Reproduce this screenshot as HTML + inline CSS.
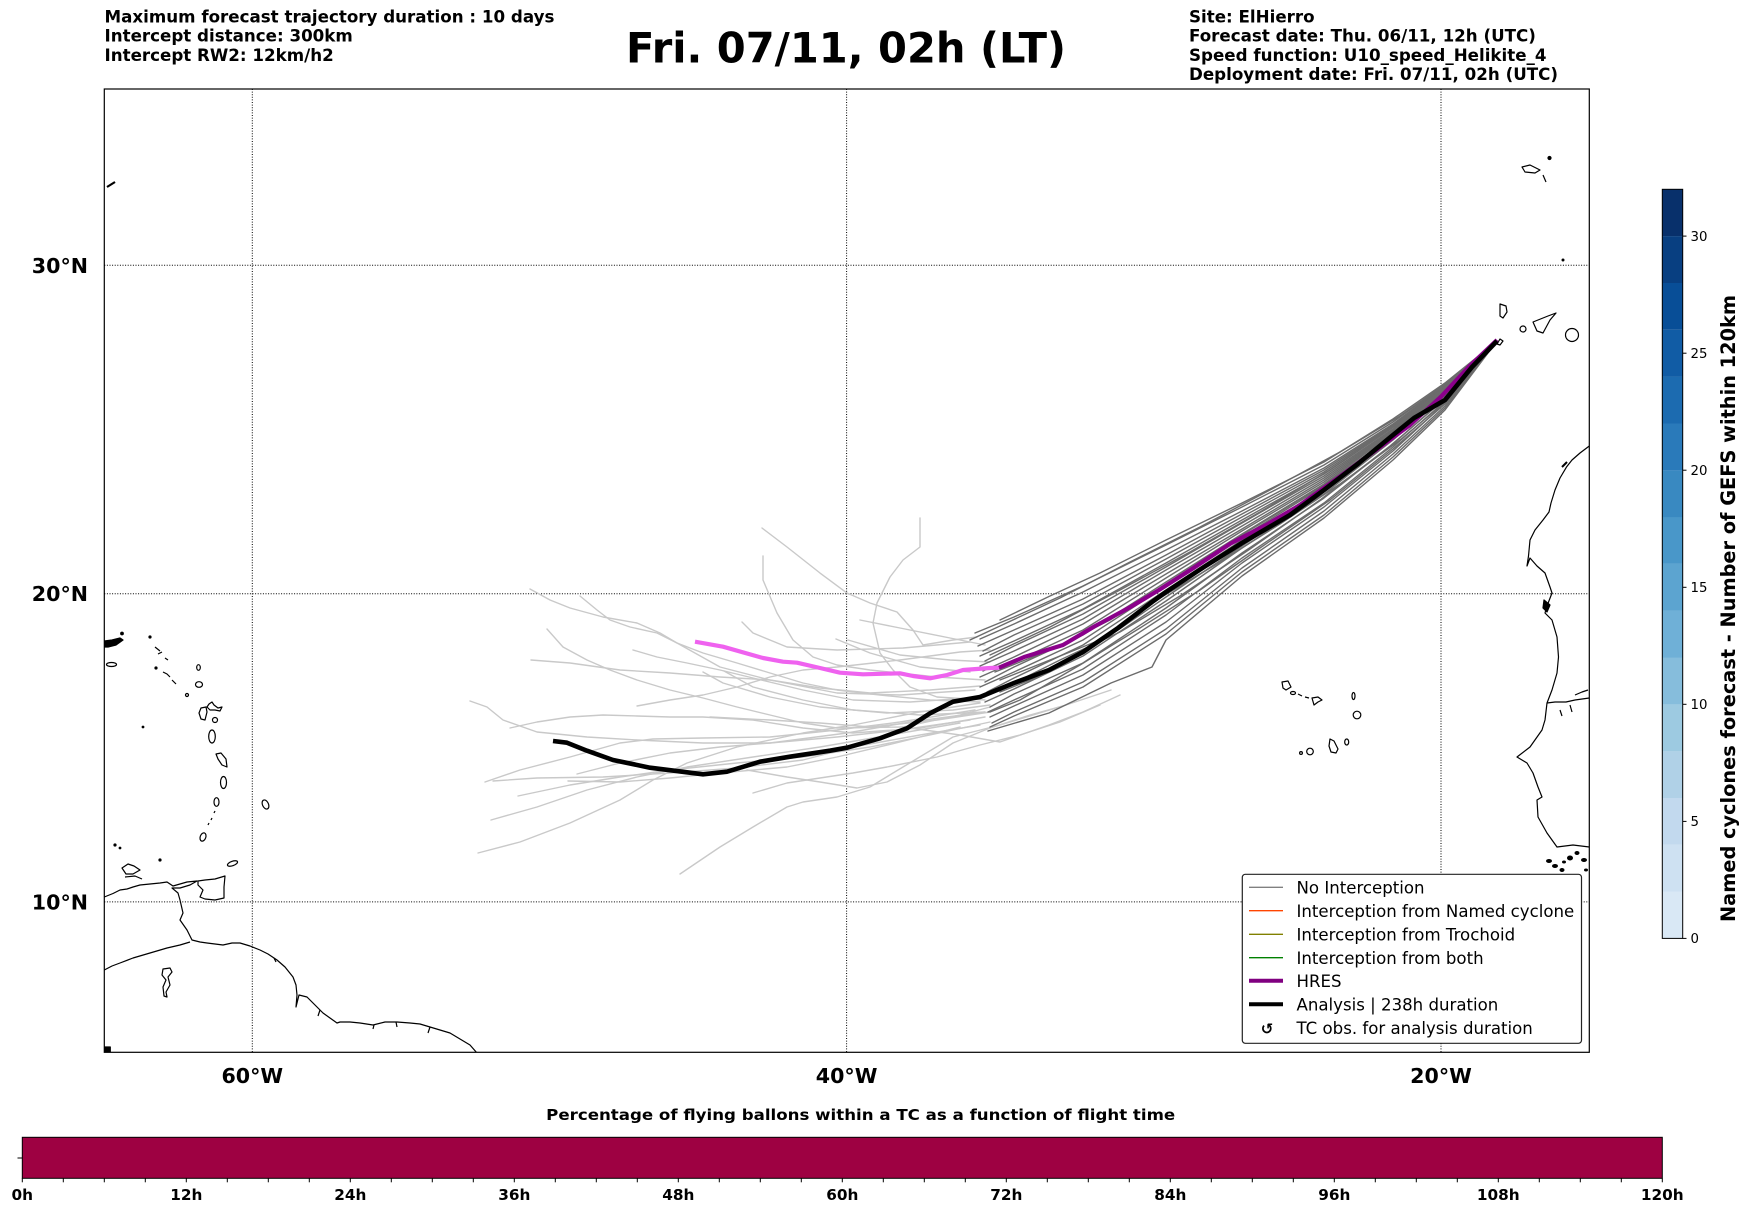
<!DOCTYPE html>
<html><head><meta charset="utf-8"><style>
html,body{margin:0;padding:0;background:#fff;}
svg{display:block;}
text{font-family:"DejaVu Sans","Liberation Sans",sans-serif;}
</style></head><body>
<svg width="1748" height="1213" viewBox="0 0 1748 1213" xmlns="http://www.w3.org/2000/svg">
<rect x="0" y="0" width="1748" height="1213" fill="#fff"/>

<!-- Header texts -->
<g font-weight="bold" font-size="16.7" fill="#000">
<text x="104.5" y="22.5">Maximum forecast trajectory duration : 10 days</text>
<text x="104.5" y="41.7">Intercept distance: 300km</text>
<text x="104.5" y="60.9">Intercept RW2: 12km/h2</text>
<text x="1189" y="22.5">Site: ElHierro</text>
<text x="1189" y="41.7">Forecast date: Thu. 06/11, 12h (UTC)</text>
<text x="1189" y="60.9">Speed function: U10_speed_Helikite_4</text>
<text x="1189" y="80.1">Deployment date: Fri. 07/11, 02h (UTC)</text>
</g>
<text x="846" y="62.3" font-size="41.6" font-weight="bold" text-anchor="middle">Fri. 07/11, 02h (LT)</text>

<!-- Map area -->
<defs><clipPath id="ax"><rect x="104.3" y="89" width="1485" height="963.3"/></clipPath></defs>
<g clip-path="url(#ax)">
<!-- gridlines -->
<g stroke="#000" stroke-width="1" stroke-dasharray="1,1.6" fill="none">
<line x1="252.3" y1="89" x2="252.3" y2="1052.3"/>
<line x1="846.6" y1="89" x2="846.6" y2="1052.3"/>
<line x1="1441" y1="89" x2="1441" y2="1052.3"/>
<line x1="104.3" y1="265.3" x2="1589.3" y2="265.3"/>
<line x1="104.3" y1="593.7" x2="1589.3" y2="593.7"/>
<line x1="104.3" y1="901.9" x2="1589.3" y2="901.9"/>
</g>

<!-- coastlines -->
<g stroke="#000" stroke-width="1.2" fill="none" stroke-linejoin="round">
<path d="M107,187 L111,184.5 L115,182" stroke-width="2.2"/>
<path d="M104.3,641 L112,640 L120,638 L123,640 L116,645 L108,647 L104.3,647 Z" fill="#000"/>
<circle cx="122" cy="633.5" r="1.3" fill="#000"/>
<ellipse cx="111.5" cy="664.5" rx="5" ry="2"/>
<path d="M155,647 L160,651 M158,654 L162,652 M165,658 L168,660"/>
<circle cx="150" cy="637" r="1" fill="#000"/>
<circle cx="156" cy="668" r="1" fill="#000"/>
<path d="M163,672 L167,674 L170,677 M172,680 L176,684"/>
<ellipse cx="198.5" cy="667.5" rx="1.8" ry="2.8"/>
<ellipse cx="199" cy="684.5" rx="3.5" ry="2.8"/>
<circle cx="187" cy="695" r="1.5"/>
<path d="M201,708 L206,707 L207,712 L205,720 L201,719 L199,713 Z"/>
<path d="M207,707 L209,704 L212,702 L214,705 L218,708 L222,707 L220,711 L215,710 L210,710 Z"/>
<circle cx="215" cy="720" r="2.5"/>
<ellipse cx="212" cy="736.5" rx="3.3" ry="6.5"/>
<path d="M216,754 L221,753 L226,759 L227,767 L222,765 L218,759 Z"/>
<ellipse cx="223.5" cy="782.5" rx="3" ry="6"/>
<ellipse cx="216.5" cy="802" rx="2.5" ry="4.3"/>
<path d="M215,811 L214,813 M212,818 L211,820 M209,823 L208,825"/>
<ellipse cx="203" cy="837" rx="2.8" ry="4.3" transform="rotate(20 203 837)"/>
<ellipse cx="265.5" cy="804.5" rx="3" ry="4.8" transform="rotate(-25 265.5 804.5)"/>
<circle cx="143" cy="727" r="0.8" fill="#000"/>
<ellipse cx="232.5" cy="863.5" rx="5.3" ry="2.2" transform="rotate(-20 232.5 863.5)"/>
<circle cx="115" cy="845" r="1" fill="#000"/><circle cx="120" cy="848" r="0.8" fill="#000"/>
<circle cx="160" cy="860" r="1" fill="#000"/>
<path d="M122,868 L128,864 L134,866 L140,870 L133,874 L126,874 Z"/>
<path d="M125,877 L135,876 L142,879"/>
<path d="M198,881 L205,880 L215,879 L225,876 L224,887 L224,898 L215,900 L205,899 L200,897 L203,890 L198,885 Z"/>
<path d="M104.3,897 L113,893.5 L120,890 L127,889 L133,887 L140,885 L150,884 L160,883 L167,882 L173,886 L180,884 L187,882 L197,881 L190,885 L180,888 L172,888 L178,893 L180,900 L183,913 L180,920 L187,930 L192,940 L200,942 L207,943 L215,944 L223,945 L232,943 L240,943 L250,946 L260,950 L268,954 L277,960 L285,967 L293,977 L296,985 L297,995 L296,1007 L299,995 L307,997 L315,1005 L323,1013 L330,1018 L337,1023 L340,1022 L350,1022 L360,1023 L373,1025 L385,1022 L397,1022 L410,1023 L420,1024 L430,1027 L440,1030 L450,1033 L460,1039 L470,1045 L477,1053"/>
<path d="M104.3,970 L112,966 L120,963 L133,958 L150,953 L167,948 L180,945 L190,942"/>
<path d="M163,969 L170,968 L172,972 L168,977 L170,985 L166,992 L167,997 L164,996 L163,987 L166,980 L162,975 Z"/>
<path d="M274,958 L276,962 M320,1010 L318,1016 M374,1025 L373,1029 M396,1022 L397,1027 M430,1027 L428,1033"/>
<rect x="104.3" y="1047" width="6" height="5.3" fill="#000"/>
<!-- Africa -->
<path d="M1589.3,446 L1580,453 L1572,460 L1566.7,466.7 L1560,478 L1555,490 L1551,503 L1549,512 L1543,520 L1535,530 L1530,540 L1528.5,556 L1527,566 L1530,558 L1537,566 L1545,573 L1550,587 L1552,593 L1547,606 L1545,613 L1552,620 L1557,637 L1558.5,657 L1557,673 L1552,690 L1547,703 L1545,720 L1542,730 L1530,747 L1517,757 L1527,763 L1533,773 L1538,787 L1542,797 L1537,800 L1538,817 L1547,833 L1557,847 L1573,845 L1589.3,847"/>
<path d="M1547,703 L1555,702 L1566,702 L1575,700 L1589.3,698"/>
<path d="M1575,695 L1582,692 L1588,690"/>
<path d="M1562,467 L1567,462" stroke-width="2"/>
<path d="M1544,600 L1550,605 L1547,612 L1543,608 Z" fill="#000"/>
<path d="M1560,710 L1562,716 M1570,705 L1572,712"/>
<g fill="#000" stroke="none">
<ellipse cx="1549" cy="861" rx="3" ry="2"/><ellipse cx="1555" cy="866" rx="3" ry="2"/>
<ellipse cx="1562" cy="870" rx="2.5" ry="2"/><ellipse cx="1570" cy="858" rx="3" ry="2.5"/>
<ellipse cx="1577" cy="853" rx="2.5" ry="2"/><ellipse cx="1584" cy="860" rx="3" ry="2"/>
<ellipse cx="1564" cy="862" rx="2" ry="1.5"/><ellipse cx="1586" cy="870" rx="2" ry="1.5"/>
</g>
<!-- Canaries -->
<path d="M1500,304 L1506,306 L1507,312 L1503,318 L1500,316 Z"/>
<circle cx="1523" cy="329" r="3"/>
<path d="M1533,322 L1548,316 L1556,313 L1550,320 L1543,333 L1537,331 Z"/>
<circle cx="1572" cy="335" r="6.5"/>
<path d="M1497,344 L1500,339 L1503,341 L1500,345 Z"/>
<!-- Madeira -->
<path d="M1522,167 L1530,165 L1540,170 L1535,173 L1525,172 Z"/>
<circle cx="1549.5" cy="158" r="1.5" fill="#000"/>
<path d="M1543,175 L1546,182"/>
<circle cx="1563" cy="260" r="0.9" fill="#000"/>
<!-- Cape Verde -->
<path d="M1282,682 L1288,681 L1291,687 L1286,690 L1283,688 Z"/>
<ellipse cx="1293" cy="693" rx="2.5" ry="1.5"/>
<path d="M1298,694 L1302,696 M1305,697 L1309,698"/>
<path d="M1312,698 L1318,697 L1322,700 L1318,702 L1314,705 Z"/>
<ellipse cx="1353.5" cy="696" rx="1.5" ry="3.5"/>
<circle cx="1357" cy="715" r="3.8"/>
<ellipse cx="1346.7" cy="742" rx="2" ry="3"/>
<path d="M1330,739 L1334,741 L1338,749 L1336,753 L1331,752 L1329,746 Z"/>
<circle cx="1310" cy="751.5" r="3.3"/>
<circle cx="1301" cy="753" r="1.4"/>
</g>

<!-- light grey trajectory sections -->
<g stroke="#c9c9c9" stroke-width="1.4" fill="none" stroke-linejoin="round" stroke-linecap="round">
<polyline points="530,589 550,600 570,608 603,617 637,623 660,633 677,643 703,653 737,663 770,673 803,683 837,690 880,695 930,700 980,702"/>
<polyline points="580,596 597,610 610,620 630,627 657,633 677,643 720,667 770,680 837,693 900,695 975,690"/>
<polyline points="547,629 563,647 587,660 610,670 637,680 670,690 703,698 737,707 770,715 803,723 837,728 903,727 960,715 990,707"/>
<polyline points="531,660 570,663 620,670 670,673 720,677 770,680 820,688 870,693 930,690 980,686"/>
<polyline points="633,650 657,657 687,663 720,670 753,678 803,690 853,700 910,702 985,697"/>
<polyline points="470,701 487,707 503,720 537,732 587,737 637,740 703,743 770,743 847,733 910,722 985,712"/>
<polyline points="510,728 537,722 570,717 603,715 637,716 670,717 703,717 753,720 803,728 853,733 920,728 985,717"/>
<polyline points="637,706 670,700 703,695 737,687 770,677 803,670 837,667 900,660 960,652 990,650"/>
<polyline points="485,782 520,770 570,757 620,743 653,739 703,738 770,737 837,730 900,722 975,710"/>
<polyline points="493,781 537,778 603,777 670,773 737,768 803,760 853,747 920,735 980,725"/>
<polyline points="568,781 620,782 670,778 720,773 787,767 837,757 900,742 960,727"/>
<polyline points="577,774 620,763 670,753 720,747 770,743 837,737 900,730 970,720"/>
<polyline points="518,796 570,785 620,777 670,770 737,763 803,757 870,747 930,735 990,722"/>
<polyline points="491,820 537,807 587,790 637,777 687,767 753,757 820,747 890,735 960,723"/>
<polyline points="478,853 520,842 570,823 620,800 653,780 687,763 737,747 803,733 853,725 920,712 980,703"/>
<polyline points="680,874 720,847 753,827 787,807 803,802 837,797 870,787 903,767 953,737 1000,725 1066,705 1111,690"/>
<polyline points="753,793 787,783 820,778 853,773 887,767 937,757 980,745 1020,735 1060,722 1100,705"/>
<polyline points="747,770 787,777 820,782 857,788 887,782 920,765 953,743 990,728 1030,715 1066,705"/>
<polyline points="762,528 787,547 820,573 847,593 870,603 897,612 913,630 923,645 953,640 977,637"/>
<polyline points="763,556 763,580 777,613 793,640 813,657 837,665 870,670 937,677 985,680"/>
<polyline points="920,518 920,547 903,560 890,577 877,603 873,623 880,653 893,670 910,687 937,697 985,700"/>
<polyline points="742,622 753,633 787,647 837,650 903,648 970,642"/>
<polyline points="836,639 870,653 920,667 970,672"/>
<polyline points="703,672 723,683 770,697 820,707 887,713 953,710 990,705"/>
<polyline points="724,671 753,687 803,700 853,710 920,715 985,712"/>
<polyline points="710,717 770,720 820,723 870,727 937,720 990,712"/>
<polyline points="903,727 960,735 1000,742 1049,725 1083,712 1120,695"/>
<polyline points="848,640 900,655 950,660 990,662"/>
<polyline points="860,620 900,628 950,638 985,645"/>
</g>

<!-- dark grey trajectory sections -->
<g stroke="#6c6c6c" stroke-width="1.4" fill="none" stroke-linejoin="round" stroke-linecap="round">
<polyline points="1497,341 1445,384 1393,422 1324,465 1242,507 1166,545 1083,586 1014,617 975,633"/>
<polyline points="1497,341 1445,385 1393,424 1324,468 1242,511 1166,550 1083,592 1014,624 980,639"/>
<polyline points="1497,341 1445,386 1393,425 1324,470 1242,514 1166,555 1083,599 1014,630 978,646"/>
<polyline points="1497,341 1445,387 1393,426 1324,472 1242,517 1166,559 1083,604 1014,635 983,651"/>
<polyline points="1497,341 1445,387 1393,427 1324,474 1242,520 1166,563 1083,609 1014,641 980,656"/>
<polyline points="1497,341 1445,388 1393,429 1324,476 1242,523 1166,567 1083,614 1014,646 985,661"/>
<polyline points="1497,341 1445,389 1393,430 1324,478 1242,526 1166,570 1083,619 1014,651 980,666"/>
<polyline points="1497,341 1445,389 1393,431 1324,480 1242,529 1166,574 1083,624 1014,657 983,671"/>
<polyline points="1497,341 1445,390 1393,432 1324,482 1242,531 1166,578 1083,630 1014,662 980,677"/>
<polyline points="1497,341 1445,391 1393,433 1324,484 1242,534 1166,582 1083,635 1014,667 985,682"/>
<polyline points="1497,341 1445,392 1393,435 1324,486 1242,537 1166,586 1083,640 1014,672 980,687"/>
<polyline points="1497,341 1445,392 1393,436 1324,488 1242,540 1166,590 1083,645 1014,678 987,692"/>
<polyline points="1497,341 1445,396 1393,440 1324,494 1242,548 1166,601 1083,656 1014,689 985,702"/>
<polyline points="1497,341 1445,398 1393,444 1324,498 1242,553 1166,608 1083,663 1014,694 990,707"/>
<polyline points="1497,341 1445,401 1393,447 1324,503 1242,558 1166,615 1083,669 1014,700 988,712"/>
<polyline points="1497,341 1445,403 1393,451 1324,507 1242,563 1166,622 1083,675 1014,706 990,717"/>
<polyline points="1497,341 1445,406 1393,454 1324,511 1242,568 1166,629 1083,682 1014,712 992,723"/>
<polyline points="1497,341 1445,408 1393,457 1324,515 1242,572 1166,634 1083,687 1014,716 990,727"/>
<polyline points="1497,341 1445,410 1393,460 1324,518 1242,576 1166,640 1152,667 1111,683 1049,713 988,731"/>
<polyline points="1497,341 1445,383 1393,419 1324,462 1242,503 1166,540 1100,573 1050,596 1000,620"/>
<polyline points="1497,341 1445,395 1393,438 1324,491 1242,546 1166,597 1083,654 1030,680 1000,692"/>
<polyline points="1497,341 1450,381 1400,416 1340,452 1270,490 1200,527 1130,562 1060,598 1000,626 970,640"/>
<polyline points="1497,341 1445,388 1395,426 1330,470 1260,512 1190,552 1120,590 1050,627 990,655"/>
<polyline points="1497,341 1448,392 1398,432 1330,481 1250,530 1180,575 1110,620 1050,650 995,672"/>
<polyline points="1497,341 1445,399 1390,446 1320,500 1250,549 1180,596 1120,632 1060,660 1000,690"/>
<polyline points="1497,341 1445,404 1393,449 1330,500 1260,548 1200,590 1140,628 1080,665 1020,700 990,712"/>
<polyline points="1497,341 1450,398 1400,440 1340,484 1280,524 1215,565 1150,604 1100,640 1050,660 1000,680"/>
</g>

<!-- HRES -->
<polyline points="695,641.7 723,646.7 763,658 783,661.7 797,662.7 820,668 840,672.7 863,674.3 900,673.3 913,676 930,678.3 947,675 963,670 990,668 999,667.7" stroke="#ef62ef" stroke-width="4.2" fill="none" stroke-linejoin="round" stroke-linecap="butt"/>
<polyline points="999,667.7 1025,656.7 1063,645 1094,626.7 1131,606.7 1159,590 1193,568.3 1231,543.3 1266,525 1300,505 1342,475 1376,450 1410,425 1441,396.7 1469,366.7 1497,340" stroke="#8b008b" stroke-width="4.2" fill="none" stroke-linejoin="round"/>
<!-- Analysis -->
<polyline points="553,741 567,742.7 587,750.7 613,760 650,767.7 703,774.3 727,771.7 760,761.7 790,756.7 830,750.7 847,747.7 880,738.3 907,728.3 930,713.3 953,701.7 980,697 1014,683 1049,670 1083,652 1118,628 1152,602 1166,592 1204,567 1242,543 1290,515 1324,490 1359,463 1393,435 1414,418 1445,400 1472,367 1497,341" stroke="#000" stroke-width="4.6" fill="none" stroke-linejoin="round"/>
</g>

<!-- axes frame -->
<rect x="104.3" y="89" width="1485" height="963.3" fill="none" stroke="#000" stroke-width="1.2"/>

<!-- tick labels -->
<g font-weight="bold" font-size="20.6" fill="#000">
<text x="88" y="272.8" text-anchor="end">30°N</text>
<text x="88" y="601.2" text-anchor="end">20°N</text>
<text x="88" y="909.4" text-anchor="end">10°N</text>
<text x="252.3" y="1083.2" text-anchor="middle">60°W</text>
<text x="846.6" y="1083.2" text-anchor="middle">40°W</text>
<text x="1441" y="1083.2" text-anchor="middle">20°W</text>
</g>

<!-- legend -->
<rect x="1242.3" y="874.3" width="339.2" height="169" rx="3" ry="3" fill="#fff" stroke="#222" stroke-width="1.2"/>
<g stroke-linecap="butt">
<line x1="1249" y1="887.3" x2="1283" y2="887.3" stroke="#808080" stroke-width="1.3"/>
<line x1="1249" y1="910.7" x2="1283" y2="910.7" stroke="#ff4500" stroke-width="1.3"/>
<line x1="1249" y1="934.3" x2="1283" y2="934.3" stroke="#808000" stroke-width="1.3"/>
<line x1="1249" y1="957.7" x2="1283" y2="957.7" stroke="#008000" stroke-width="1.3"/>
<line x1="1249" y1="980.7" x2="1283" y2="980.7" stroke="#800080" stroke-width="4"/>
<line x1="1249" y1="1004.3" x2="1283" y2="1004.3" stroke="#000" stroke-width="4"/>
</g>
<text x="1267" y="1034" font-size="15" font-weight="bold" text-anchor="middle">↺</text>
<g font-size="16.6" fill="#000">
<text x="1296.5" y="893.5">No Interception</text>
<text x="1296.5" y="916.9">Interception from Named cyclone</text>
<text x="1296.5" y="940.5">Interception from Trochoid</text>
<text x="1296.5" y="963.9">Interception from both</text>
<text x="1296.5" y="986.9">HRES</text>
<text x="1296.5" y="1010.5">Analysis | 238h duration</text>
<text x="1296.5" y="1034.2">TC obs. for analysis duration</text>
</g>

<!-- right colorbar -->
<g stroke="none">
<rect x="1662.3" y="891.6" width="20.4" height="46.9" fill="#d9e8f5"/>
<rect x="1662.3" y="844.8" width="20.4" height="46.9" fill="#cee1f2"/>
<rect x="1662.3" y="797.9" width="20.4" height="46.9" fill="#c2d9ee"/>
<rect x="1662.3" y="751.1" width="20.4" height="46.9" fill="#b0d1e7"/>
<rect x="1662.3" y="704.3" width="20.4" height="46.9" fill="#9dcae1"/>
<rect x="1662.3" y="657.5" width="20.4" height="46.9" fill="#86bddc"/>
<rect x="1662.3" y="610.7" width="20.4" height="46.9" fill="#6fb0d7"/>
<rect x="1662.3" y="563.9" width="20.4" height="46.9" fill="#5ca4d0"/>
<rect x="1662.3" y="517.0" width="20.4" height="46.9" fill="#4997c9"/>
<rect x="1662.3" y="470.2" width="20.4" height="46.9" fill="#3989c1"/>
<rect x="1662.3" y="423.4" width="20.4" height="46.9" fill="#2a7aba"/>
<rect x="1662.3" y="376.6" width="20.4" height="46.9" fill="#1c6bb0"/>
<rect x="1662.3" y="329.8" width="20.4" height="46.9" fill="#115ca5"/>
<rect x="1662.3" y="282.9" width="20.4" height="46.9" fill="#084e97"/>
<rect x="1662.3" y="236.1" width="20.4" height="46.9" fill="#083f81"/>
<rect x="1662.3" y="189.3" width="20.4" height="46.8" fill="#08306b"/>
</g>
<rect x="1662.3" y="189.3" width="20.4" height="749.1" fill="none" stroke="#000" stroke-width="1"/>
<g stroke="#000" stroke-width="1">
<line x1="1682.7" y1="938.4" x2="1686.5" y2="938.4"/>
<line x1="1682.7" y1="821.4" x2="1686.5" y2="821.4"/>
<line x1="1682.7" y1="704.3" x2="1686.5" y2="704.3"/>
<line x1="1682.7" y1="587.3" x2="1686.5" y2="587.3"/>
<line x1="1682.7" y1="470.2" x2="1686.5" y2="470.2"/>
<line x1="1682.7" y1="353.2" x2="1686.5" y2="353.2"/>
<line x1="1682.7" y1="236.1" x2="1686.5" y2="236.1"/>
</g>
<g font-size="13.3" fill="#000">
<text x="1690.5" y="943.1">0</text>
<text x="1690.5" y="826.1">5</text>
<text x="1690.5" y="709">10</text>
<text x="1690.5" y="592">15</text>
<text x="1690.5" y="474.9">20</text>
<text x="1690.5" y="357.9">25</text>
<text x="1690.5" y="240.8">30</text>
</g>
<text transform="translate(1735,608.5) rotate(-90)" text-anchor="middle" font-size="19.4" font-weight="bold" textLength="627" lengthAdjust="spacingAndGlyphs">Named cyclones forecast - Number of GEFS within 120km</text>

<!-- bottom bar -->
<text x="860.7" y="1120" text-anchor="middle" font-size="14.8" font-weight="bold" textLength="629" lengthAdjust="spacingAndGlyphs">Percentage of flying ballons within a TC as a function of flight time</text>
<rect x="22.3" y="1137.3" width="1640" height="41" fill="#9e0142" stroke="#000" stroke-width="1"/>
<line x1="17.5" y1="1158" x2="22.3" y2="1158" stroke="#000" stroke-width="1"/>
<g stroke="#000" stroke-width="1">
<line x1="22.3" y1="1178.3" x2="22.3" y2="1182.3"/><line x1="63.3" y1="1178.3" x2="63.3" y2="1182.3"/><line x1="104.3" y1="1178.3" x2="104.3" y2="1182.3"/><line x1="145.3" y1="1178.3" x2="145.3" y2="1182.3"/>
<line x1="186.3" y1="1178.3" x2="186.3" y2="1182.3"/><line x1="227.3" y1="1178.3" x2="227.3" y2="1182.3"/><line x1="268.3" y1="1178.3" x2="268.3" y2="1182.3"/><line x1="309.3" y1="1178.3" x2="309.3" y2="1182.3"/>
<line x1="350.3" y1="1178.3" x2="350.3" y2="1182.3"/><line x1="391.3" y1="1178.3" x2="391.3" y2="1182.3"/><line x1="432.3" y1="1178.3" x2="432.3" y2="1182.3"/><line x1="473.3" y1="1178.3" x2="473.3" y2="1182.3"/>
<line x1="514.3" y1="1178.3" x2="514.3" y2="1182.3"/><line x1="555.3" y1="1178.3" x2="555.3" y2="1182.3"/><line x1="596.3" y1="1178.3" x2="596.3" y2="1182.3"/><line x1="637.3" y1="1178.3" x2="637.3" y2="1182.3"/>
<line x1="678.3" y1="1178.3" x2="678.3" y2="1182.3"/><line x1="719.3" y1="1178.3" x2="719.3" y2="1182.3"/><line x1="760.3" y1="1178.3" x2="760.3" y2="1182.3"/><line x1="801.3" y1="1178.3" x2="801.3" y2="1182.3"/>
<line x1="842.3" y1="1178.3" x2="842.3" y2="1182.3"/><line x1="883.3" y1="1178.3" x2="883.3" y2="1182.3"/><line x1="924.3" y1="1178.3" x2="924.3" y2="1182.3"/><line x1="965.3" y1="1178.3" x2="965.3" y2="1182.3"/>
<line x1="1006.3" y1="1178.3" x2="1006.3" y2="1182.3"/><line x1="1047.3" y1="1178.3" x2="1047.3" y2="1182.3"/><line x1="1088.3" y1="1178.3" x2="1088.3" y2="1182.3"/><line x1="1129.3" y1="1178.3" x2="1129.3" y2="1182.3"/>
<line x1="1170.3" y1="1178.3" x2="1170.3" y2="1182.3"/><line x1="1211.3" y1="1178.3" x2="1211.3" y2="1182.3"/><line x1="1252.3" y1="1178.3" x2="1252.3" y2="1182.3"/><line x1="1293.3" y1="1178.3" x2="1293.3" y2="1182.3"/>
<line x1="1334.3" y1="1178.3" x2="1334.3" y2="1182.3"/><line x1="1375.3" y1="1178.3" x2="1375.3" y2="1182.3"/><line x1="1416.3" y1="1178.3" x2="1416.3" y2="1182.3"/><line x1="1457.3" y1="1178.3" x2="1457.3" y2="1182.3"/>
<line x1="1498.3" y1="1178.3" x2="1498.3" y2="1182.3"/><line x1="1539.3" y1="1178.3" x2="1539.3" y2="1182.3"/><line x1="1580.3" y1="1178.3" x2="1580.3" y2="1182.3"/><line x1="1621.3" y1="1178.3" x2="1621.3" y2="1182.3"/>
<line x1="1662.3" y1="1178.3" x2="1662.3" y2="1182.3"/>
</g>
<g font-size="15.3" font-weight="bold" text-anchor="middle" fill="#000">
<text x="22.3" y="1200">0h</text>
<text x="186.3" y="1200">12h</text>
<text x="350.3" y="1200">24h</text>
<text x="514.3" y="1200">36h</text>
<text x="678.3" y="1200">48h</text>
<text x="842.3" y="1200">60h</text>
<text x="1006.3" y="1200">72h</text>
<text x="1170.3" y="1200">84h</text>
<text x="1334.3" y="1200">96h</text>
<text x="1498.3" y="1200">108h</text>
<text x="1662.3" y="1200">120h</text>
</g>
</svg>
</body></html>
